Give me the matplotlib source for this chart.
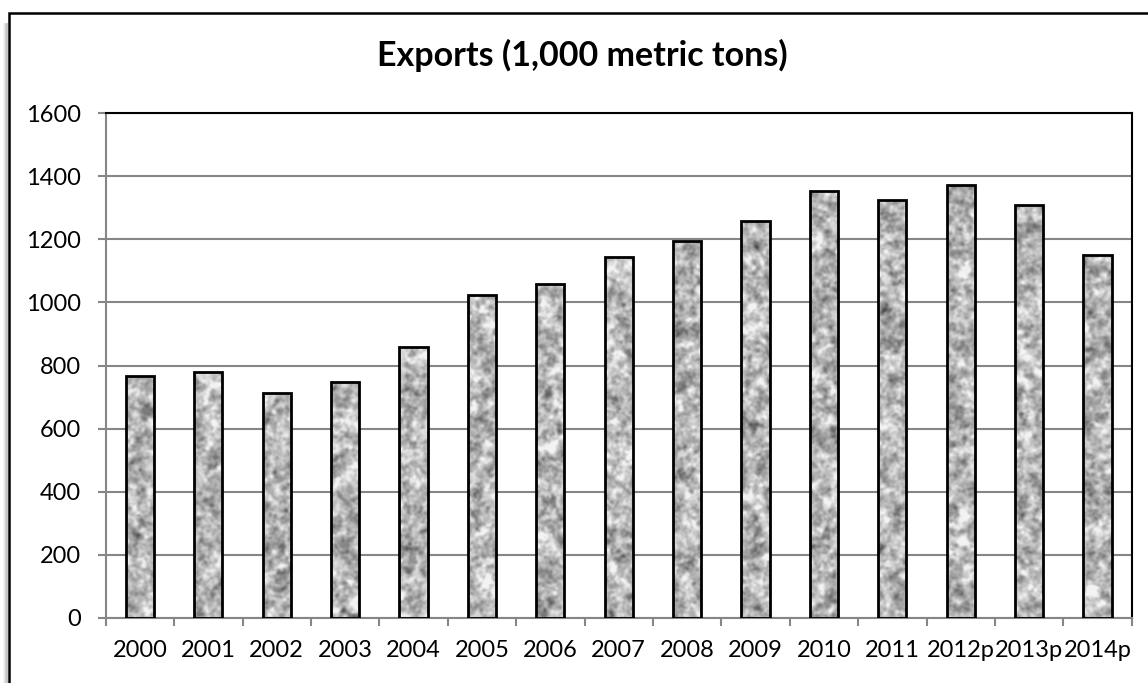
import numpy as np
import matplotlib
matplotlib.use("Agg")
import matplotlib.pyplot as plt
from matplotlib.path import Path
from matplotlib.patches import PathPatch, Rectangle
from matplotlib.lines import Line2D

years = ["2000", "2001", "2002", "2003", "2004", "2005", "2006", "2007",
         "2008", "2009", "2010", "2011", "2012p", "2013p", "2014p"]
exports = [767, 780, 712, 747, 858, 1022, 1059, 1144,
           1193, 1257, 1354, 1324, 1373, 1310, 1151]
y_ticks = [0, 200, 400, 600, 800, 1000, 1200, 1400, 1600]

plt.rcParams["font.family"] = ["Lato", "DejaVu Sans"]

AXIS_GRAY = "#868686"


def smooth(a, sigma):
    # gaussian blur through the FFT, wraps around at the edges
    h, w = a.shape
    fy = np.fft.fftfreq(h)[:, None]
    fx = np.fft.fftfreq(w)[None, :]
    k = np.exp(-2 * (np.pi * sigma) ** 2 * (fx ** 2 + fy ** 2))
    out = np.real(np.fft.ifft2(np.fft.fft2(a) * k))
    return (out - out.mean()) / out.std()


# granite-like fill for the bars
rng = np.random.default_rng(7)
tex_h, tex_w = 520, 1040
fine = smooth(rng.standard_normal((tex_h, tex_w)), 1.3)
mid = smooth(rng.standard_normal((tex_h, tex_w)), 2.8)
coarse = smooth(rng.standard_normal((tex_h, tex_w)), 6.0)
granite = 0.72 + 0.06 * fine + 0.08 * mid + 0.04 * coarse
granite = np.clip(granite, 0.3, 0.95)

fig = plt.figure(figsize=(11.48, 6.83), dpi=100)
ax = fig.add_axes([105.7 / 1148, 1 - 618 / 683, 1026 / 1148, 505 / 683])

x = np.arange(len(years))
bars = ax.bar(x, exports, width=0.41, color="none", edgecolor="black",
              linewidth=2, zorder=3)

# clip one texture image to the union of all bar rectangles
bar_paths = [b.get_path().transformed(b.get_patch_transform()) for b in bars]
clip = PathPatch(Path.make_compound_path(*bar_paths), transform=ax.transData,
                 facecolor="none", edgecolor="none")
ax.add_patch(clip)
img = ax.imshow(granite, cmap="gray", vmin=0, vmax=1, aspect="auto",
                extent=[-0.5, len(years) - 0.5, 0, 1600], zorder=2,
                interpolation="bilinear")
img.set_clip_path(clip)

ax.set_xlim(-0.5, len(years) - 0.5)
ax.set_ylim(0, 1600)
ax.set_yticks(y_ticks)
ax.set_xticks(x)
ax.set_xticklabels(years)
ax.set_xticks(np.arange(len(years) + 1) - 0.5, minor=True)

ax.yaxis.grid(True, color=AXIS_GRAY, linewidth=1.5)
ax.set_axisbelow(True)

for side in ("left", "bottom"):
    ax.spines[side].set_color(AXIS_GRAY)
    ax.spines[side].set_linewidth(1.5)
for side in ("top", "right"):
    ax.spines[side].set_color("black")
    ax.spines[side].set_linewidth(1.5)

ax.tick_params(axis="y", which="major", length=6, width=1.5, color=AXIS_GRAY,
               pad=12, labelsize=17)
ax.tick_params(axis="x", which="major", length=0, pad=16, labelsize=17)
ax.tick_params(axis="x", which="minor", length=6, width=1.5, color=AXIS_GRAY)

fig.text(582 / 1148, 1 - 55 / 683, "Exports (1,000 metric tons)",
         ha="center", va="center", fontsize=24.5, fontweight="bold")

# chart frame with a soft shadow on its left side
for i, g in enumerate(["#f2f2f2", "#e2e2e2", "#cfcfcf", "#bdbdbd"]):
    fig.add_artist(Line2D([(4 + i) / 1148] * 2, [0, 1 - 24 / 683],
                          color=g, linewidth=1.2))
fig.add_artist(Rectangle((8.5 / 1148, -0.05), 1.2, 1.05 - 13.5 / 683,
                         transform=fig.transFigure, facecolor="none",
                         edgecolor="black", linewidth=1.8))

fig.savefig("out.png", dpi=100)
